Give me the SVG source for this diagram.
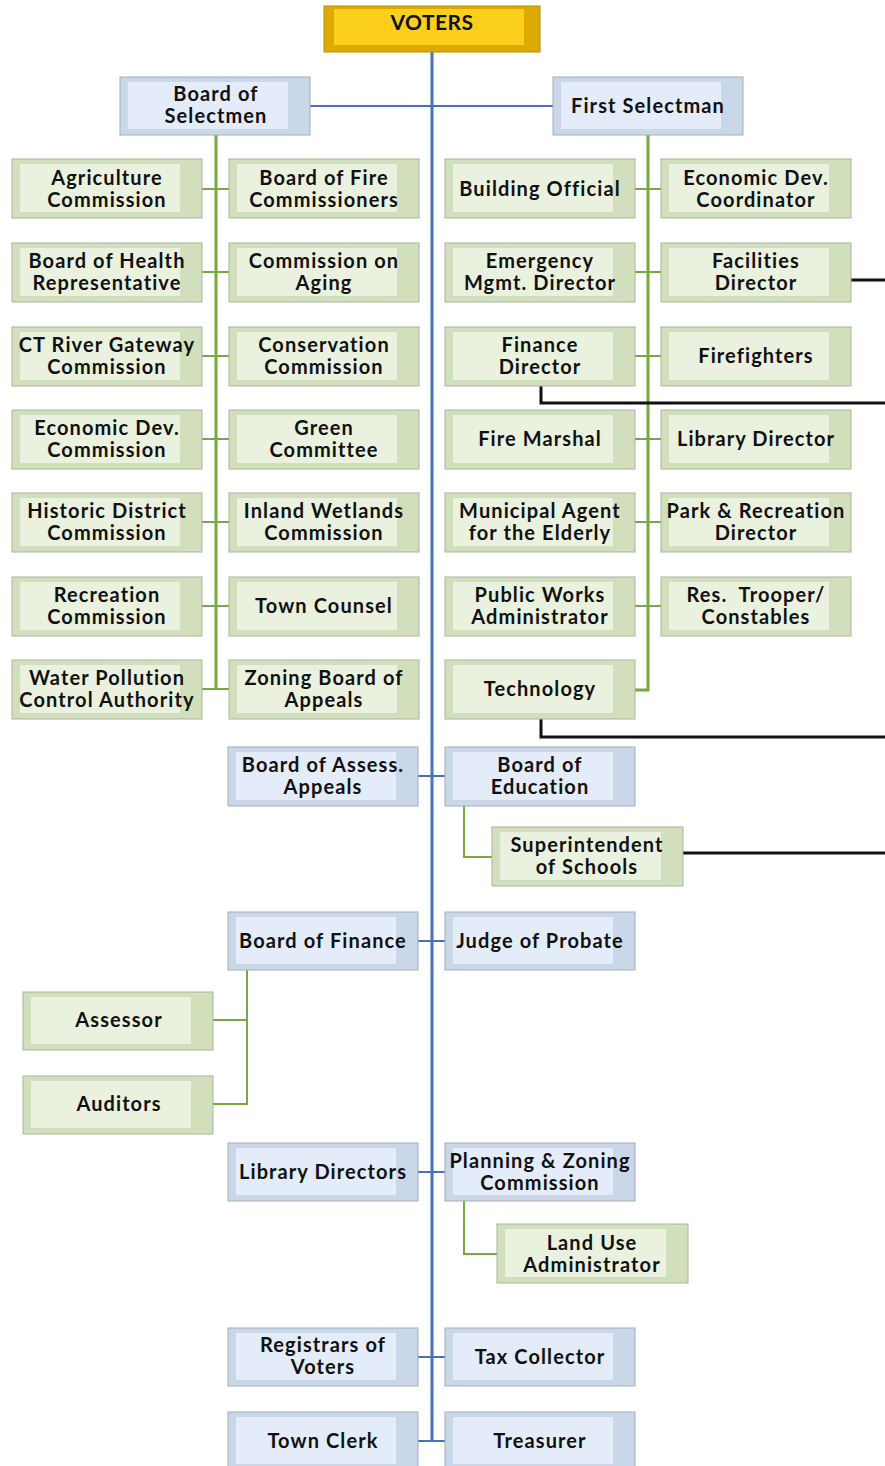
<svg xmlns="http://www.w3.org/2000/svg" width="885" height="1466" viewBox="0 0 885 1466">
<style>
text{font-family:"Lato","Liberation Sans",sans-serif;font-weight:700;font-size:20px;fill:#111;text-anchor:middle;letter-spacing:1.1px}
.g .o{fill:#d2dfbd;stroke:#aab49f;stroke-width:1}
.g .i{fill:#eaf2df}
.b .o{fill:#c9d7e8;stroke:#a2adbb;stroke-width:1}
.b .i{fill:#e3ecf8}
.y .o{fill:#dcaa00;stroke:#b88f00}
.y .i{fill:#fbcf1c}
.cb{stroke:#4a72b4;stroke-width:3;fill:none}
.cbt{stroke:#4a72b4;stroke-width:2;fill:none}
.cg{stroke:#77a843;stroke-width:3;fill:none}
.cgt{stroke:#77a843;stroke-width:2;fill:none}
.ck{stroke:#111;stroke-width:3;fill:none}
</style>
<g id="connectors">
<line class="cb" x1="432" y1="52" x2="432" y2="1441"/>
<line class="cbt" x1="310" y1="106" x2="553" y2="106"/>
<line class="cg" x1="216" y1="135" x2="216" y2="690"/>
<path class="cgt" d="M202 189H229M202 272H229M202 356H229M202 439H229M202 522H229M202 606H229M202 689H229"/>
<path class="cg" d="M648 135V690H635"/>
<path class="cgt" d="M635 189H661M635 272H661M635 356H661M635 439H661M635 522H661M635 606H661"/>
<path class="cbt" d="M418 776H445M418 941H445M418 1172H445M418 1357H445M418 1441H445"/>
<path class="cgt" d="M464 806V857H492"/>
<path class="cgt" d="M247 970V1104H213M213 1020H247"/>
<path class="cgt" d="M464 1201V1254H497"/>
<path class="ck" d="M851 280H885"/>
<path class="ck" d="M541 386V403H885"/>
<path class="ck" d="M541 719V737H885"/>
<path class="ck" d="M683 853H885"/>
</g>
<g id="voters" class="y"><rect class="o" x="324" y="6" width="216" height="46"/><rect class="i" x="334" y="9" width="190" height="36"/><text x="432" y="30" style="font-size:21px;letter-spacing:0.5px">VOTERS</text></g>
<g id="board-of-selectmen" class="b"><rect class="o" x="120" y="77" width="190" height="58"/><rect class="i" x="128" y="82" width="160" height="47"/><text x="216" y="101">Board of</text><text x="216" y="123">Selectmen</text></g>
<g id="first-selectman" class="b"><rect class="o" x="553" y="77" width="190" height="58"/><rect class="i" x="561" y="82" width="160" height="47"/><text x="648" y="113">First Selectman</text></g>

<g id="agriculture-commission" class="g"><rect class="o" x="12" y="159" width="190" height="59"/><rect class="i" x="20" y="164" width="160" height="48"/><text x="107" y="185">Agriculture</text><text x="107" y="207">Commission</text></g>
<g id="board-of-fire-commissioners" class="g"><rect class="o" x="229" y="159" width="190" height="59"/><rect class="i" x="237" y="164" width="160" height="48"/><text x="324" y="185">Board of Fire</text><text x="324" y="207">Commissioners</text></g>
<g id="board-of-health-representative" class="g"><rect class="o" x="12" y="243" width="190" height="59"/><rect class="i" x="20" y="248" width="160" height="48"/><text x="107" y="268">Board of Health</text><text x="107" y="290">Representative</text></g>
<g id="commission-on-aging" class="g"><rect class="o" x="229" y="243" width="190" height="59"/><rect class="i" x="237" y="248" width="160" height="48"/><text x="324" y="268">Commission on</text><text x="324" y="290">Aging</text></g>
<g id="ct-river-gateway-commission" class="g"><rect class="o" x="12" y="327" width="190" height="59"/><rect class="i" x="20" y="332" width="160" height="48"/><text x="107" y="352">CT River Gateway</text><text x="107" y="374">Commission</text></g>
<g id="conservation-commission" class="g"><rect class="o" x="229" y="327" width="190" height="59"/><rect class="i" x="237" y="332" width="160" height="48"/><text x="324" y="352">Conservation</text><text x="324" y="374">Commission</text></g>
<g id="economic-dev-commission" class="g"><rect class="o" x="12" y="410" width="190" height="59"/><rect class="i" x="20" y="415" width="160" height="48"/><text x="107" y="435">Economic Dev.</text><text x="107" y="457">Commission</text></g>
<g id="green-committee" class="g"><rect class="o" x="229" y="410" width="190" height="59"/><rect class="i" x="237" y="415" width="160" height="48"/><text x="324" y="435">Green</text><text x="324" y="457">Committee</text></g>
<g id="historic-district-commission" class="g"><rect class="o" x="12" y="493" width="190" height="59"/><rect class="i" x="20" y="498" width="160" height="48"/><text x="107" y="518">Historic District</text><text x="107" y="540">Commission</text></g>
<g id="inland-wetlands-commission" class="g"><rect class="o" x="229" y="493" width="190" height="59"/><rect class="i" x="237" y="498" width="160" height="48"/><text x="324" y="518">Inland Wetlands</text><text x="324" y="540">Commission</text></g>
<g id="recreation-commission" class="g"><rect class="o" x="12" y="577" width="190" height="59"/><rect class="i" x="20" y="582" width="160" height="48"/><text x="107" y="602">Recreation</text><text x="107" y="624">Commission</text></g>
<g id="town-counsel" class="g"><rect class="o" x="229" y="577" width="190" height="59"/><rect class="i" x="237" y="582" width="160" height="48"/><text x="324" y="613">Town Counsel</text></g>
<g id="water-pollution-control-authority" class="g"><rect class="o" x="12" y="660" width="190" height="59"/><rect class="i" x="20" y="665" width="160" height="48"/><text x="107" y="685">Water Pollution</text><text x="107" y="707">Control Authority</text></g>
<g id="zoning-board-of-appeals" class="g"><rect class="o" x="229" y="660" width="190" height="59"/><rect class="i" x="237" y="665" width="160" height="48"/><text x="324" y="685">Zoning Board of</text><text x="324" y="707">Appeals</text></g>

<g id="building-official" class="g"><rect class="o" x="445" y="159" width="190" height="59"/><rect class="i" x="453" y="164" width="160" height="48"/><text x="540" y="196">Building Official</text></g>
<g id="economic-dev-coordinator" class="g"><rect class="o" x="661" y="159" width="190" height="59"/><rect class="i" x="669" y="164" width="160" height="48"/><text x="756" y="185">Economic Dev.</text><text x="756" y="207">Coordinator</text></g>
<g id="emergency-mgmt-director" class="g"><rect class="o" x="445" y="243" width="190" height="59"/><rect class="i" x="453" y="248" width="160" height="48"/><text x="540" y="268">Emergency</text><text x="540" y="290">Mgmt. Director</text></g>
<g id="facilities-director" class="g"><rect class="o" x="661" y="243" width="190" height="59"/><rect class="i" x="669" y="248" width="160" height="48"/><text x="756" y="268">Facilities</text><text x="756" y="290">Director</text></g>
<g id="finance-director" class="g"><rect class="o" x="445" y="327" width="190" height="59"/><rect class="i" x="453" y="332" width="160" height="48"/><text x="540" y="352">Finance</text><text x="540" y="374">Director</text></g>
<g id="firefighters" class="g"><rect class="o" x="661" y="327" width="190" height="59"/><rect class="i" x="669" y="332" width="160" height="48"/><text x="756" y="363">Firefighters</text></g>
<g id="fire-marshal" class="g"><rect class="o" x="445" y="410" width="190" height="59"/><rect class="i" x="453" y="415" width="160" height="48"/><text x="540" y="446">Fire Marshal</text></g>
<g id="library-director" class="g"><rect class="o" x="661" y="410" width="190" height="59"/><rect class="i" x="669" y="415" width="160" height="48"/><text x="756" y="446">Library Director</text></g>
<g id="municipal-agent-for-the-elderly" class="g"><rect class="o" x="445" y="493" width="190" height="59"/><rect class="i" x="453" y="498" width="160" height="48"/><text x="540" y="518">Municipal Agent</text><text x="540" y="540">for the Elderly</text></g>
<g id="park-recreation-director" class="g"><rect class="o" x="661" y="493" width="190" height="59"/><rect class="i" x="669" y="498" width="160" height="48"/><text x="756" y="518">Park &amp; Recreation</text><text x="756" y="540">Director</text></g>
<g id="public-works-administrator" class="g"><rect class="o" x="445" y="577" width="190" height="59"/><rect class="i" x="453" y="582" width="160" height="48"/><text x="540" y="602">Public Works</text><text x="540" y="624">Administrator</text></g>
<g id="res-trooper-constables" class="g"><rect class="o" x="661" y="577" width="190" height="59"/><rect class="i" x="669" y="582" width="160" height="48"/><text x="756" y="602" xml:space="preserve">Res.  Trooper/</text><text x="756" y="624">Constables</text></g>
<g id="technology" class="g"><rect class="o" x="445" y="660" width="190" height="59"/><rect class="i" x="453" y="665" width="160" height="48"/><text x="540" y="696">Technology</text></g>

<g id="board-of-assess-appeals" class="b"><rect class="o" x="228" y="747" width="190" height="59"/><rect class="i" x="236" y="752" width="160" height="48"/><text x="323" y="772">Board of Assess.</text><text x="323" y="794">Appeals</text></g>
<g id="board-of-education" class="b"><rect class="o" x="445" y="747" width="190" height="59"/><rect class="i" x="453" y="752" width="160" height="48"/><text x="540" y="772">Board of</text><text x="540" y="794">Education</text></g>
<g id="superintendent-of-schools" class="g"><rect class="o" x="492" y="827" width="191" height="59"/><rect class="i" x="500" y="832" width="161" height="48"/><text x="587" y="852">Superintendent</text><text x="587" y="874">of Schools</text></g>

<g id="board-of-finance" class="b"><rect class="o" x="228" y="912" width="190" height="58"/><rect class="i" x="236" y="917" width="160" height="47"/><text x="323" y="948">Board of Finance</text></g>
<g id="judge-of-probate" class="b"><rect class="o" x="445" y="912" width="190" height="58"/><rect class="i" x="453" y="917" width="160" height="47"/><text x="540" y="948">Judge of Probate</text></g>
<g id="assessor" class="g"><rect class="o" x="23" y="992" width="190" height="58"/><rect class="i" x="31" y="997" width="160" height="47"/><text x="119" y="1027">Assessor</text></g>
<g id="auditors" class="g"><rect class="o" x="23" y="1076" width="190" height="58"/><rect class="i" x="31" y="1081" width="160" height="47"/><text x="119" y="1111">Auditors</text></g>

<g id="library-directors" class="b"><rect class="o" x="228" y="1143" width="190" height="58"/><rect class="i" x="236" y="1148" width="160" height="47"/><text x="323" y="1179">Library Directors</text></g>
<g id="planning-zoning-commission" class="b"><rect class="o" x="445" y="1143" width="190" height="58"/><rect class="i" x="453" y="1148" width="160" height="47"/><text x="540" y="1168">Planning &amp; Zoning</text><text x="540" y="1190">Commission</text></g>
<g id="land-use-administrator" class="g"><rect class="o" x="497" y="1224" width="191" height="59"/><rect class="i" x="505" y="1229" width="161" height="48"/><text x="592" y="1250">Land Use</text><text x="592" y="1272">Administrator</text></g>

<g id="registrars-of-voters" class="b"><rect class="o" x="228" y="1328" width="190" height="58"/><rect class="i" x="236" y="1333" width="160" height="47"/><text x="323" y="1352">Registrars of</text><text x="323" y="1374">Voters</text></g>
<g id="tax-collector" class="b"><rect class="o" x="445" y="1328" width="190" height="58"/><rect class="i" x="453" y="1333" width="160" height="47"/><text x="540" y="1364">Tax Collector</text></g>
<g id="town-clerk" class="b"><rect class="o" x="228" y="1412" width="190" height="58"/><rect class="i" x="236" y="1417" width="160" height="47"/><text x="323" y="1448">Town Clerk</text></g>
<g id="treasurer" class="b"><rect class="o" x="445" y="1412" width="190" height="58"/><rect class="i" x="453" y="1417" width="160" height="47"/><text x="540" y="1448">Treasurer</text></g>
</svg>
